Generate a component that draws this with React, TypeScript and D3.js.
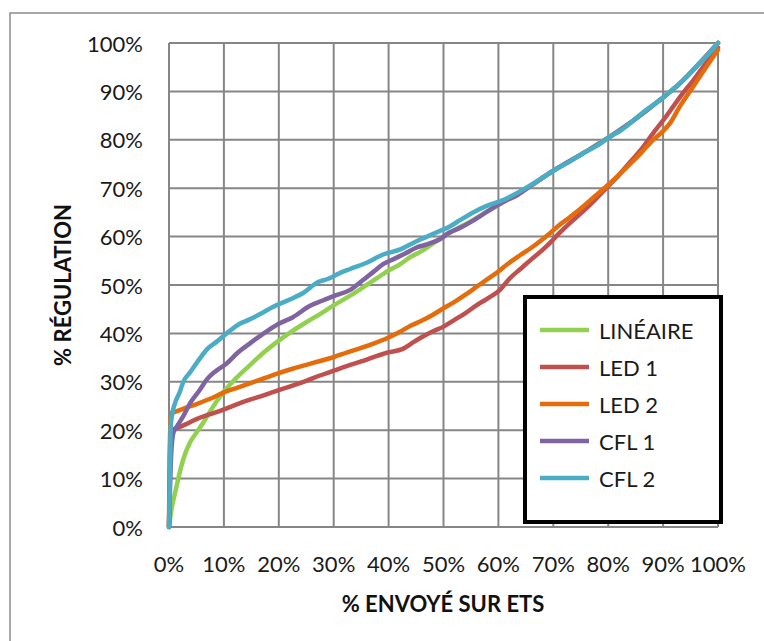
import * as d3 from "d3";

// % envoyé sur ETS (x) vs % régulation (y)
const lineaire: [number, number][] = [
  [0, 0], [0.5, 4], [1.1, 7], [2, 11.5], [2.6, 14], [3.8, 17.4], [5, 19.5], [6.2, 21.5],
  [8, 24.8], [9.8, 27.7], [12, 30.5], [14.8, 33.5], [17, 35.8], [20, 38.5], [22.5, 40.5],
  [25, 42.3], [27.5, 44], [30, 45.8], [33, 47.8], [36, 50], [38, 51.5], [40, 53], [42, 54.2],
  [44, 55.8], [46, 57], [48, 58.5], [51, 60.7], [55, 63.2], [58, 65.2], [61.5, 67.6],
  [65, 69.8], [70, 73.6], [76, 77.6], [80, 80.5], [85, 84.3], [89.4, 88.2], [93, 91.6],
  [96.7, 95.9], [100, 100],
];

const led1: [number, number][] = [
  [0, 0], [0.3, 20], [1.1, 20.3], [3, 21.2], [5, 22.3], [7.5, 23.3], [9.8, 24.2], [12, 25.2],
  [15, 26.4], [17.5, 27.3], [20, 28.3], [22.5, 29.2], [25, 30.2], [27.5, 31.3], [30, 32.3],
  [32.5, 33.3], [35, 34.2], [37.5, 35.2], [39.7, 36], [42.6, 36.8], [44, 37.8], [46, 39.2],
  [48, 40.4], [50, 41.4], [52, 42.8], [54, 44.2], [56, 45.8], [58, 47.2], [60.3, 49],
  [62, 51.3], [64, 53.3], [66, 55.3], [68, 57.2], [69.4, 58.7], [71, 60.6], [73, 62.8],
  [75, 64.8], [77.5, 67.5], [79.8, 70.2], [82, 72.8], [84, 75.4], [86, 78], [88.2, 81.4],
  [90, 84], [91.8, 86.8], [93.5, 89.5], [95.5, 92.3], [97.5, 95.4], [100, 99],
];

const led2: [number, number][] = [
  [0, 0], [0.3, 23.5], [1.1, 23.8], [3, 24.6], [5, 25.4], [7.5, 26.5], [9.8, 27.7],
  [12.5, 28.8], [15, 29.8], [17.5, 30.8], [20, 31.8], [22.5, 32.7], [25, 33.5], [27.5, 34.3],
  [30, 35.1], [32.5, 36.1], [35, 37], [37.5, 38], [39.7, 39], [42, 40.3], [44, 41.6],
  [46, 42.6], [48, 43.8], [50, 45.2], [52, 46.5], [54, 48], [56, 49.6], [58, 51.2], [60, 52.8],
  [61.5, 54.2], [64, 56.2], [66, 57.7], [68, 59.4], [69.4, 60.7], [71, 62.3], [73, 64],
  [75, 65.8], [77, 67.8], [79.8, 70.5], [82, 72.8], [84, 75], [86, 77.3], [88.2, 80],
  [90, 81.8], [91.3, 83.5], [93, 86.8], [95, 90.2], [97, 93.6], [100, 98.6],
];

const cfl1: [number, number][] = [
  [0, 0], [0.4, 15], [0.8, 19.5], [1.4, 20.7], [2.6, 22.9], [3.8, 25.5], [5.6, 28.3],
  [6.9, 30.5], [8.5, 32.2], [10.5, 33.8], [12.5, 36], [14.8, 38], [17, 39.8], [20, 42],
  [22.5, 43.3], [25.7, 45.7], [28, 46.8], [30, 47.7], [33, 49], [35.3, 51], [37, 52.5],
  [39, 54.3], [41, 55.4], [43, 56.5], [45, 57.7], [47, 58.4], [49.4, 59.5], [51, 60.8],
  [53, 61.8], [55.4, 63.3], [58, 65.2], [61.5, 67.5], [63.5, 68.6], [66, 70.6], [70, 73.6],
  [76, 77.6], [80.3, 80.6], [84.5, 83.9], [89.4, 88.2], [93, 91.6], [96.7, 95.9], [100, 100],
];

const cfl2: [number, number][] = [
  [0, 0], [0.2, 12], [0.3, 20.7], [0.7, 24], [1.1, 25.6], [2, 28], [2.6, 30], [3.8, 31.9],
  [5.6, 34.8], [7, 36.8], [8.7, 38.3], [10.5, 40], [12.9, 42], [14.5, 42.8], [16.6, 44],
  [19, 45.5], [22, 47], [24.5, 48.4], [27, 50.5], [29, 51.3], [31, 52.4], [33, 53.3],
  [36, 54.6], [39, 56.3], [42, 57.3], [45, 59], [47, 60], [49.4, 61.2], [51, 62], [53, 63.4],
  [55.4, 65], [58, 66.4], [61, 67.6], [64, 69.4], [67, 71.4], [70, 73.6], [73, 75.5],
  [76, 77.6], [78, 78.8], [80.3, 80.6], [82.5, 82.1], [84.5, 83.9], [86.5, 85.8],
  [89.4, 88.2], [91, 89.7], [93, 91.6], [95, 93.8], [96.7, 95.9], [98.5, 98], [100, 100],
];

const seriesNames = ["LINÉAIRE", "LED 1", "LED 2", "CFL 1", "CFL 2"];
const seriesColors = ["#92d050", "#c0504d", "#e46c0a", "#8064a2", "#4bacc6"];
const seriesData = [lineaire, led1, led2, cfl1, cfl2];

const ticks = [0, 10, 20, 30, 40, 50, 60, 70, 80, 90, 100];

const FONT = "Lato, 'Open Sans', sans-serif";

export default function App() {
  const width = 764;
  const height = 641;
  const plot = { left: 169, right: 718, top: 43, bottom: 527 };

  const x = d3.scaleLinear().domain([0, 100]).range([plot.left, plot.right]);
  const y = d3.scaleLinear().domain([0, 100]).range([plot.bottom, plot.top]);

  const line = d3
    .line<[number, number]>()
    .x((d) => x(d[0]))
    .y((d) => y(d[1]))
    .curve(d3.curveMonotoneX);

  const legend = { x: 525, y: 297, w: 196, h: 225 };

  return (
    <svg
      width={width}
      height={height}
      style={{ position: "absolute", left: 0, top: 0, background: "#fff" }}
      fontFamily={FONT}
    >
      {/* chart area border (runs off the right/bottom edge) */}
      <rect x={10} y={13} width={780} height={660} fill="#fff" stroke="#8c8c8c" strokeWidth={1.5} />

      {/* grid */}
      <g stroke="#868686" strokeWidth={2}>
        {ticks.map((t) => (
          <line key={"v" + t} x1={x(t)} x2={x(t)} y1={plot.top} y2={plot.bottom} />
        ))}
        {ticks.map((t) => (
          <line key={"h" + t} x1={plot.left} x2={plot.right} y1={y(t)} y2={y(t)} />
        ))}
      </g>

      {/* tick labels */}
      <g fontSize={22} fill="#1a1a1a">
        {ticks.map((t) => (
          <text key={"yl" + t} x={143} y={y(t)} textAnchor="end" dominantBaseline="central">
            {t}%
          </text>
        ))}
        {ticks.map((t) => (
          <text key={"xl" + t} x={x(t)} y={563} textAnchor="middle" dominantBaseline="central">
            {t}%
          </text>
        ))}
      </g>

      {/* axis titles */}
      <text x={443} y={603} textAnchor="middle" dominantBaseline="central" fontSize={22} fontWeight="bold" fill="#111">
        % ENVOYÉ SUR ETS
      </text>
      <text
        transform={`translate(62,285) rotate(-90)`}
        textAnchor="middle"
        dominantBaseline="central"
        fontSize={22}
        fontWeight="bold"
        fill="#111"
      >
        % RÉGULATION
      </text>

      {/* series */}
      <g fill="none" strokeWidth={4.5} strokeLinejoin="round" strokeLinecap="round">
        {seriesData.map((d, i) => (
          <path key={seriesNames[i]} d={line(d) ?? ""} stroke={seriesColors[i]} />
        ))}
      </g>

      {/* legend */}
      <rect x={legend.x} y={legend.y} width={legend.w} height={legend.h} fill="#fff" stroke="#000" strokeWidth={4} />
      {seriesNames.map((name, i) => {
        const ly = 330 + i * 37;
        return (
          <g key={name}>
            <line x1={540} x2={589} y1={ly} y2={ly} stroke={seriesColors[i]} strokeWidth={4.5} />
            <text x={599} y={ly} dominantBaseline="central" fontSize={22} fill="#1a1a1a">
              {name}
            </text>
          </g>
        );
      })}
    </svg>
  );
}
